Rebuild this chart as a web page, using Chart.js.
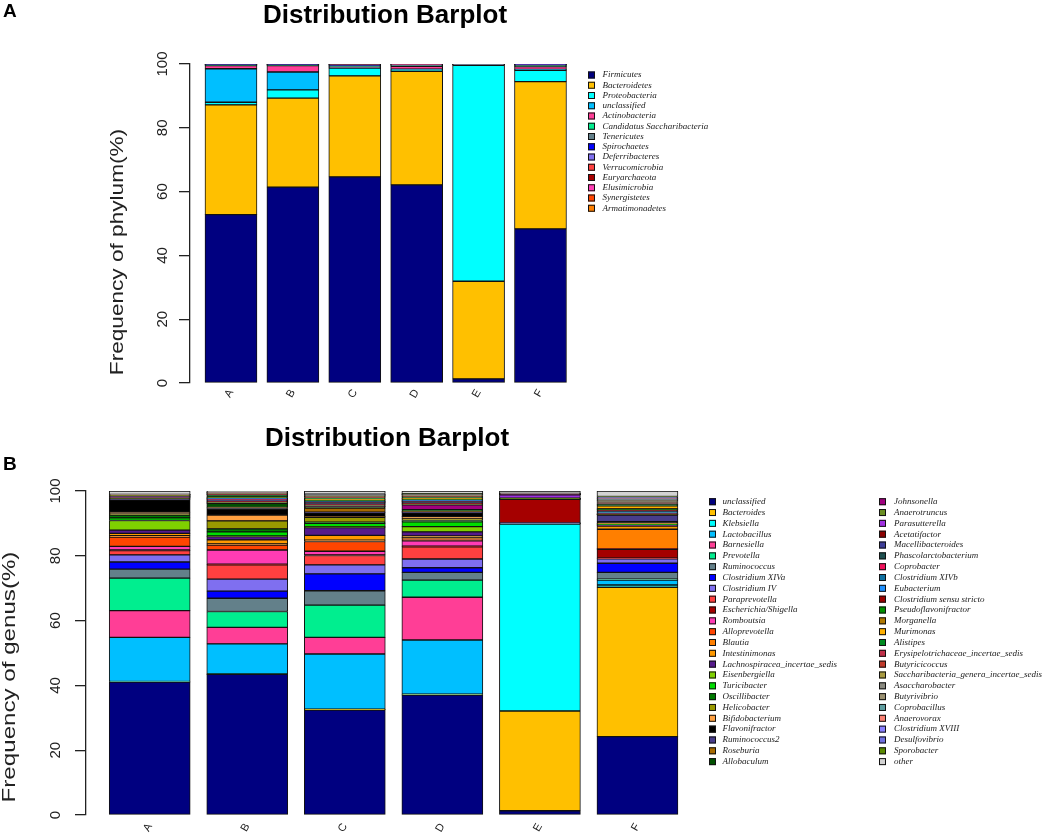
<!DOCTYPE html>
<html>
<head>
<meta charset="utf-8">
<title>Distribution Barplot</title>
<script src="https://cdn.jsdelivr.net/npm/chart.js@4.4.1/dist/chart.umd.min.js"></script>
<style>
  html, body { margin: 0; padding: 0; background: #fff; }
  #wrap { position: relative; width: 1045px; height: 833px; }
  canvas { position: absolute; left: 0; }
  #phylum { top: 0; }
  #genus { top: 420px; }
</style>
</head>
<body>
<div id="wrap">
  <canvas id="phylum" width="1045" height="420"></canvas>
  <canvas id="genus" width="1045" height="413"></canvas>
</div>
<script>
const samples = ['A', 'B', 'C', 'D', 'E', 'F'];
const yTicks = [0, 20, 40, 60, 80, 100];

// phylum level
const phylumNames = ['Firmicutes', 'Bacteroidetes', 'Proteobacteria', 'unclassified', 'Actinobacteria',
  'Candidatus Saccharibacteria', 'Tenericutes', 'Spirochaetes', 'Deferribacteres', 'Verrucomicrobia',
  'Euryarchaeota', 'Elusimicrobia', 'Synergistetes', 'Armatimonadetes'];
const phylumColors = ['#000080', '#FFC000', '#00FFFF', '#00BFFF', '#FF3E96', '#00EE8F', '#63808A',
  '#0000FF', '#7F6FF0', '#FF4040', '#A50000', '#FF3CB4', '#FF4500', '#FF7F00'];
const phylumA = [52.8, 34.4, 0.8, 10.5, 1.0, 0.1, 0.2, 0.05, 0.05, 0.03, 0.02, 0.02, 0.02, 0.01];
const phylumB = [61.4, 27.9, 2.6, 5.6, 2.0, 0.1, 0.2, 0.05, 0.05, 0.03, 0.02, 0.02, 0.02, 0.01];
const phylumC = [64.6, 31.7, 2.4, 0.1, 0.2, 0.2, 0.3, 0.1, 0.2, 0.1, 0.05, 0.03, 0.01, 0.01];
const phylumD = [62.1, 35.6, 0.3, 0.4, 0.9, 0.1, 0.2, 0.1, 0.05, 0.05, 0.05, 0.05, 0.05, 0.05];
const phylumE = [1.3, 30.6, 67.7, 0.1, 0.1, 0.05, 0.05, 0.02, 0.02, 0.02, 0.01, 0.01, 0.01, 0.01];
const phylumF = [48.3, 46.2, 3.5, 0.3, 0.9, 0.3, 0.2, 0.1, 0.05, 0.05, 0.03, 0.03, 0.02, 0.02];

// genus level
const genusNames = ['unclassified', 'Bacteroides', 'Klebsiella', 'Lactobacillus', 'Barnesiella',
  'Prevotella', 'Ruminococcus', 'Clostridium XIVa', 'Clostridium IV', 'Paraprevotella',
  'Escherichia/Shigella', 'Romboutsia', 'Alloprevotella', 'Blautia', 'Intestinimonas',
  'Lachnospiracea_incertae_sedis', 'Eisenbergiella', 'Turicibacter', 'Oscillibacter', 'Helicobacter',
  'Bifidobacterium', 'Flavonifractor', 'Ruminococcus2', 'Roseburia', 'Allobaculum',
  'Johnsonella', 'Anaerotruncus', 'Parasutterella', 'Acetatifactor', 'Macellibacteroides',
  'Phascolarctobacterium', 'Coprobacter', 'Clostridium XIVb', 'Eubacterium', 'Clostridium sensu stricto',
  'Pseudoflavonifractor', 'Morganella', 'Murimonas', 'Alistipes', 'Erysipelotrichaceae_incertae_sedis',
  'Butyricicoccus', 'Saccharibacteria_genera_incertae_sedis', 'Asaccharobacter', 'Butyrivibrio', 'Coprobacillus',
  'Anaerovorax', 'Clostridium XVIII', 'Desulfovibrio', 'Sporobacter', 'other'];
const genusColors = ['#000080', '#FFC000', '#00FFFF', '#00BFFF', '#FF3E96',
  '#00EE8F', '#63808A', '#0000FF', '#7F6FF0', '#FF4040',
  '#A50000', '#FF3CB4', '#FF4500', '#FF7F00', '#FF9900',
  '#551A8B', '#7FD000', '#00DD00', '#007A00', '#999900',
  '#FFA040', '#000000', '#483D8B', '#A86A00', '#005000',
  '#A0007F', '#6B8E23', '#A030E0', '#8B0000', '#3D3D99',
  '#1E5050', '#F0105A', '#1070A0', '#1E90FF', '#9B0000',
  '#009000', '#B07800', '#FFB000', '#008A20', '#C0304A',
  '#C03A2A', '#A89A40', '#8A8A80', '#9A9070', '#5F9EA0',
  '#FA8072', '#8A80FF', '#7070E0', '#5A8A00', '#D3D3D3'];
const genusA = [41.0, 0.1, 0.1, 13.6, 8.3, 10.0, 2.8, 2.2, 2.2, 1.3,
  0.2, 1.1, 2.9, 0.4, 0.7, 1.0, 3.0, 0.8, 0.9, 0.3,
  0.6, 3.8, 0.2, 0.1, 0.2, 0.05, 0.05, 0.05, 0.05, 0.1,
  0.1, 0.05, 0.05, 0.05, 0.05, 0.05, 0.02, 0.05, 0.1, 0.05,
  0.05, 0.05, 0.02, 0.03, 0.03, 0.02, 0.02, 0.03, 0.03, 1.05];
const genusB = [43.4, 0.1, 0.1, 9.2, 5.1, 4.9, 4.1, 2.2, 3.7, 4.4,
  0.2, 4.4, 1.5, 0.4, 1.2, 1.0, 0.2, 1.3, 0.9, 2.5,
  1.8, 2.0, 0.2, 0.1, 1.3, 0.1, 0.2, 0.1, 0.2, 0.3,
  0.2, 0.1, 0.2, 0.1, 0.1, 0.2, 0.05, 0.1, 0.7, 0.1,
  0.1, 0.15, 0.1, 0.1, 0.05, 0.05, 0.05, 0.1, 0.05, 0.3];
const genusC = [32.4, 0.2, 0.1, 17.0, 5.1, 10.0, 4.4, 5.2, 2.8, 2.9,
  0.2, 1.1, 3.0, 0.4, 1.5, 2.4, 0.3, 1.0, 0.4, 1.5,
  0.2, 1.2, 0.2, 1.2, 0.4, 0.1, 0.4, 0.1, 0.2, 0.2,
  0.3, 0.1, 0.2, 0.1, 0.2, 0.2, 0.1, 0.2, 0.4, 0.1,
  0.2, 0.2, 0.1, 0.1, 0.1, 0.05, 0.05, 0.1, 0.1, 1.0];
const genusD = [37.0, 0.2, 0.1, 16.7, 13.2, 5.3, 2.4, 1.4, 2.7, 3.8,
  0.2, 1.6, 0.6, 0.4, 0.5, 1.3, 1.6, 1.5, 0.4, 0.5,
  0.7, 1.2, 0.2, 0.2, 0.5, 1.5, 0.2, 0.1, 0.2, 0.2,
  0.3, 0.1, 0.2, 0.1, 0.2, 0.2, 0.1, 0.1, 0.4, 0.1,
  0.2, 0.2, 0.1, 0.1, 0.1, 0.05, 0.05, 0.1, 0.1, 0.8];
const genusE = [1.3, 30.8, 57.7, 0.1, 0.05, 0.05, 0.05, 0.05, 0.05, 0.05,
  7.2, 0.025, 0.025, 0.025, 0.025, 0.025, 0.025, 0.025, 0.025, 0.025,
  0.025, 0.025, 0.025, 0.025, 0.025, 0.025, 0.025, 1.0, 0.02, 0.02,
  0.02, 0.02, 0.02, 0.02, 0.02, 0.02, 0.02, 0.02, 0.02, 0.02,
  0.02, 0.02, 0.02, 0.02, 0.02, 0.02, 0.02, 0.02, 0.02, 0.78];
const genusF = [24.2, 46.1, 0.7, 1.5, 0.1, 0.2, 2.1, 2.8, 1.4, 0.2,
  2.7, 0.1, 0.1, 6.0, 1.0, 0.2, 0.1, 0.1, 0.2, 0.1,
  0.1, 0.5, 2.1, 0.1, 0.1, 0.02, 0.02, 0.02, 0.02, 0.02,
  0.1, 0.05, 0.6, 0.2, 0.3, 0.2, 0.2, 0.9, 0.4, 0.3,
  0.3, 0.3, 0.2, 0.2, 0.3, 0.2, 0.2, 0.3, 0.15, 1.7];

const SANS = '"Liberation Sans", Arial, Helvetica, sans-serif';
const SERIF = '"Liberation Serif", "Times New Roman", serif';

// one dataset per taxon, one stacked bar per sample
const buildDatasets = (names, colors, rows, thickness) =>
  names.map((name, k) => ({
    label: name,
    data: rows.map((row, i) => ({ x: i, y: row[k] })),
    backgroundColor: colors[k],
    borderColor: '#111',
    borderWidth: 1,
    borderSkipped: false,
    barThickness: thickness,
  }));

// R style decorations: title, panel letter, y label and the boxed legend
const sideLegend = {
  id: 'sideLegend',
  afterDraw(chart, args, o) {
    const { ctx } = chart;
    ctx.save();
    ctx.fillStyle = '#000';
    ctx.textAlign = 'center';
    ctx.textBaseline = 'alphabetic';
    ctx.font = 'bold 26px ' + SANS;
    ctx.fillText(o.title, o.titleX, o.titleY);
    ctx.textAlign = 'left';
    ctx.font = 'bold 19px ' + SANS;
    ctx.fillText(o.panel, 3, o.panelY);

    // y label, stretched along its length like the original figure
    ctx.save();
    ctx.fillStyle = '#222';
    ctx.translate(o.ylabX, o.ylabY);
    ctx.rotate(-Math.PI / 2);
    ctx.scale(o.ylabStretch, 1);
    ctx.textAlign = 'center';
    ctx.textBaseline = 'middle';
    ctx.font = '19px ' + SANS;
    ctx.fillText(o.ylab, 0, 0);
    ctx.restore();

    ctx.font = 'italic 9px ' + SERIF;
    ctx.textBaseline = 'middle';
    chart.data.datasets.forEach((ds, i) => {
      const col = Math.floor(i / o.perColumn);
      const cy = o.top + (i % o.perColumn) * o.step;
      const bx = o.boxX[col];
      ctx.fillStyle = ds.backgroundColor;
      ctx.fillRect(bx, cy - o.box / 2, o.box, o.box);
      ctx.strokeStyle = '#111';
      ctx.lineWidth = 1;
      ctx.strokeRect(bx + 0.5, cy - o.box / 2 + 0.5, o.box - 1, o.box - 1);
      ctx.fillStyle = '#222';
      ctx.fillText(ds.label, o.textX[col], cy);
    });
    ctx.restore();
  },
};

const makeOptions = (cfg) => ({
  responsive: false,
  animation: false,
  layout: { padding: cfg.padding },
  plugins: {
    legend: { display: false },
    tooltip: { enabled: false },
    sideLegend: cfg.legend,
  },
  scales: {
    x: {
      type: 'linear',
      stacked: true,
      offset: false,
      min: cfg.xMin,
      max: cfg.xMax,
      afterFit: (scale) => { scale.height = cfg.xHeight; },
      afterBuildTicks: (scale) => { scale.ticks = samples.map((s, i) => ({ value: i })); },
      grid: { display: false },
      border: { display: false },
      ticks: {
        autoSkip: false,
        minRotation: 60,
        maxRotation: 60,
        padding: cfg.xPad,
        color: '#222',
        font: { family: SANS, size: 11 },
        callback: (v) => samples[v],
      },
    },
    y: {
      stacked: true,
      min: 0,
      max: 100,
      afterFit: (scale) => { scale.width = cfg.yWidth; },
      border: { display: true, color: '#222', width: 1.3 },
      grid: { drawOnChartArea: false, drawTicks: true, tickLength: 11, color: '#222', lineWidth: 1.3 },
      afterBuildTicks: (scale) => { scale.ticks = yTicks.map((v) => ({ value: v })); },
      ticks: {
        minRotation: 90,
        maxRotation: 90,
        crossAlign: 'center',
        padding: cfg.tickPad,
        color: '#222',
        font: { family: SANS, size: 15 },
      },
    },
  },
});

new Chart(document.getElementById('phylum'), {
  type: 'bar',
  data: { datasets: buildDatasets(phylumNames, phylumColors,
    [phylumA, phylumB, phylumC, phylumD, phylumE, phylumF], 52) },
  options: makeOptions({
    padding: { left: 90, right: 455, top: 64, bottom: 0 },
    xMin: -0.662, xMax: 5.8, xHeight: 37, xPad: -4,
    yWidth: 100, tickPad: 4,
    legend: {
      title: 'Distribution Barplot', titleX: 385, titleY: 23, panel: 'A', panelY: 17,
      ylab: 'Frequency of phylum(%)', ylabX: 118, ylabY: 252, ylabStretch: 1.19,
      perColumn: 14, top: 75, step: 10.25, box: 7,
      boxX: [588], textX: [602.5],
    },
  }),
  plugins: [sideLegend],
});

new Chart(document.getElementById('genus'), {
  type: 'bar',
  data: { datasets: buildDatasets(genusNames, genusColors,
    [genusA, genusB, genusC, genusD, genusE, genusF], 81) },
  options: makeOptions({
    padding: { left: 0, right: 350, top: 71, bottom: 0 },
    xMin: -0.653, xMax: 5.59, xHeight: 18, xPad: -2,
    yWidth: 86, tickPad: 7,
    legend: {
      title: 'Distribution Barplot', titleX: 387, titleY: 26, panel: 'B', panelY: 50,
      ylab: 'Frequency of genus(%)', ylabX: 10, ylabY: 257, ylabStretch: 1.27,
      perColumn: 25, top: 81.7, step: 10.83, box: 7,
      boxX: [709, 879], textX: [722.5, 894],
    },
  }),
  plugins: [sideLegend],
});
</script>
</body>
</html>
